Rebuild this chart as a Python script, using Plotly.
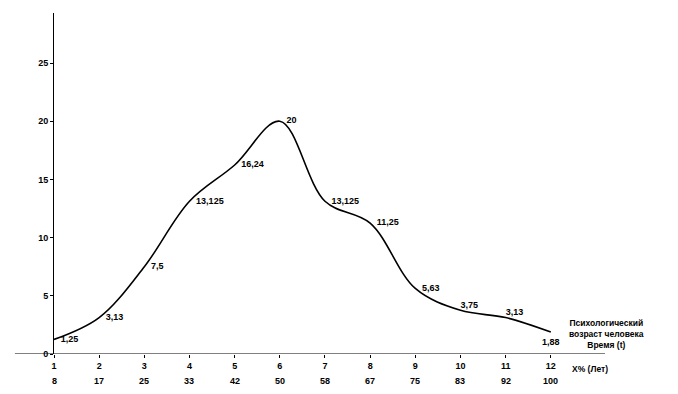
import plotly.graph_objects as go

x_steps = [1, 2, 3, 4, 5, 6, 7, 8, 9, 10, 11, 12]
percent_labels = ["8", "17", "25", "33", "42", "50", "58", "67", "75", "83", "92", "100"]
values = [1.25, 3.13, 7.5, 13.125, 16.24, 20, 13.125, 11.25, 5.63, 3.75, 3.13, 1.88]
value_labels = ["1,25", "3,13", "7,5", "13,125", "16,24", "20", "13,125", "11,25", "5,63", "3,75", "3,13", "1,88"]
y_ticks = [0, 5, 10, 15, 20, 25]

FONT = "Liberation Sans"
TXT = dict(family=FONT, size=9, color="black", weight="bold")

positions = ["middle right"] * 9 + ["top right", "top right", "bottom center"]
marker_sizes = [9] * 9 + [0, 0, 9]

fig = go.Figure()
fig.add_trace(go.Scatter(
    x=x_steps, y=values,
    mode="lines+markers+text",
    line=dict(color="black", width=1.6, shape="spline", smoothing=1.0),
    marker=dict(size=marker_sizes, color="rgba(0,0,0,0)", opacity=0,
                line=dict(width=0, color="rgba(0,0,0,0)")),
    text=value_labels,
    textposition=positions,
    textfont=TXT,
    hoverinfo="skip",
    cliponaxis=False,
))

annotations = []
for xv, pl in zip(x_steps, percent_labels):
    annotations.append(dict(
        x=xv, y=0.0, xref="x", yref="paper",
        text=pl, showarrow=False, yanchor="middle", xanchor="center",
        yshift=-27, font=TXT,
    ))

annotations.append(dict(
    x=1.0, y=0.0, xref="paper", yref="paper", xanchor="center", yanchor="middle",
    xshift=1, yshift=20,
    text="Психологический<br>возраст человека<br>Время (t)",
    showarrow=False, align="center",
    font=dict(family=FONT, size=8.5, color="black", weight="bold"),
))
annotations.append(dict(
    x=1.0, y=0.0, xref="paper", yref="paper", xanchor="center", yanchor="middle",
    xshift=-15, yshift=-15,
    text="X% (Лет)",
    showarrow=False, align="center",
    font=dict(family=FONT, size=8.5, color="black", weight="bold"),
))

fig.update_layout(
    width=662, height=378,
    margin=dict(l=46, r=65, t=5, b=32, autoexpand=False),
    paper_bgcolor="white", plot_bgcolor="white",
    showlegend=False,
    annotations=annotations,
    shapes=[dict(type="line", xref="paper", yref="y", x0=-0.071, x1=1.0, y0=0, y1=0,
                 line=dict(color="black", width=1))],
    xaxis=dict(
        range=[1, 13.2], tickmode="array", tickvals=x_steps,
        ticktext=[str(v) for v in x_steps],
        showgrid=False, zeroline=False, showline=False, automargin=False,
        ticks="outside", ticklen=3, tickcolor="black",
        tickfont=TXT,
    ),
    yaxis=dict(
        range=[0, 29.3], tickmode="array", tickvals=y_ticks,
        showgrid=False, zeroline=False, showline=True, linecolor="black", linewidth=1,
        automargin=False,
        ticks="outside", ticklen=3, tickcolor="black",
        tickfont=TXT,
    ),
)

fig.write_html("out.html")
